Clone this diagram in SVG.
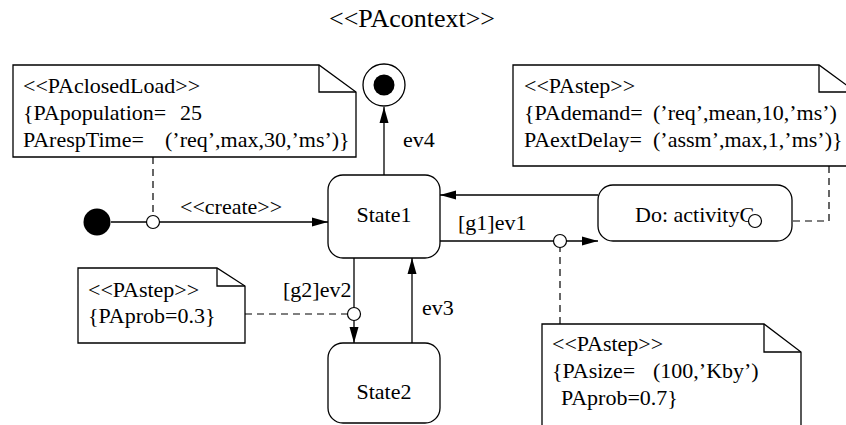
<svg xmlns="http://www.w3.org/2000/svg" width="846" height="425" viewBox="0 0 846 425">
<style>
text { font-family: "Liberation Serif", "Times New Roman", serif; font-size: 22px; fill: #000; }
.title { font-size: 26px; }
.box { fill: #fff; stroke: #000; stroke-width: 1.3; }
.fold { fill: none; stroke: #000; stroke-width: 1.3; }
.edge { fill: none; stroke: #000; stroke-width: 1.3; }
.dash { fill: none; stroke: #000; stroke-width: 1.2; stroke-dasharray: 7 5; }
.pt { fill: #fff; stroke: #000; stroke-width: 1.2; }
</style>
<defs>
<marker id="arr" viewBox="0 0 16 10" refX="16" refY="5" markerWidth="16" markerHeight="10" orient="auto" markerUnits="userSpaceOnUse">
<path d="M0,0.5 L16,5 L0,9.5 z" fill="#000"/>
</marker>
</defs>
<rect width="846" height="425" fill="#fff"/>
<text class="title" x="329" y="27">&lt;&lt;PAcontext&gt;&gt;</text>

<g id="connectors">
<line class="edge" x1="111" y1="222" x2="328" y2="222" marker-end="url(#arr)"/>
<line class="edge" x1="384" y1="175" x2="384" y2="107" marker-end="url(#arr)"/>
<line class="edge" x1="598" y1="195" x2="440" y2="195" marker-end="url(#arr)"/>
<line class="edge" x1="440" y1="241" x2="598" y2="241" marker-end="url(#arr)"/>
<line class="edge" x1="354" y1="258" x2="354" y2="343" marker-end="url(#arr)"/>
<line class="edge" x1="412" y1="343" x2="412" y2="258" marker-end="url(#arr)"/>
<path class="dash" d="M153,157 V215.5"/>
<path class="dash" d="M245,314 H347.5"/>
<path class="dash" d="M560,324 V247.5"/>
<path class="dash" d="M829,166 V221 H761.5"/>
<text x="180" y="214">&lt;&lt;create&gt;&gt;</text>
<text x="403" y="147">ev4</text>
<text x="458" y="230">[g1]ev1</text>
<text x="283" y="297">[g2]ev2</text>
<text x="422" y="315">ev3</text>
</g>

<g id="initial">
<circle cx="97" cy="222" r="13.5" fill="#000"/>
</g>

<g id="final">
<circle cx="384" cy="85" r="21" class="box"/>
<circle cx="384" cy="85" r="10.5" fill="#000"/>
</g>

<g id="state1">
<rect class="box" x="328" y="175" width="112" height="83" rx="15"/>
<text x="384" y="222" text-anchor="middle">State1</text>
</g>

<g id="state2">
<rect class="box" x="328" y="343" width="112" height="80" rx="15"/>
<text x="384" y="399" text-anchor="middle">State2</text>
</g>

<g id="activityC">
<rect class="box" x="598" y="185" width="194" height="56" rx="15"/>
<text x="635" y="222">Do: activityC</text>
</g>

<g id="note-closedLoad">
<path class="box" d="M13,65 H319 L356,92 V157 H13 Z"/>
<path class="fold" d="M319,65 V92 H356"/>
<text x="23" y="93">&lt;&lt;PAclosedLoad&gt;&gt;</text>
<text x="23" y="120">{PApopulation=<tspan x="180">25</tspan></text>
<text x="23" y="147">PArespTime=<tspan x="165">(’req’,max,30,’ms’)}</tspan></text>
</g>

<g id="note-step-demand">
<path class="box" d="M513,65 H819 L856,92 V166 H513 Z"/>
<path class="fold" d="M819,65 V92 H856"/>
<text x="524" y="93">&lt;&lt;PAstep&gt;&gt;</text>
<text x="524" y="120">{PAdemand=<tspan x="653">(’req’,mean,10,’ms’)</tspan></text>
<text x="524" y="147">PAextDelay=<tspan x="653">(’assm’,max,1,’ms’)}</tspan></text>
</g>

<g id="note-step-prob03">
<path class="box" d="M78,268 H217 L245,286 V343 H78 Z"/>
<path class="fold" d="M217,268 V286 H245"/>
<text x="88" y="297">&lt;&lt;PAstep&gt;&gt;</text>
<text x="88" y="323">{PAprob=0.3}</text>
</g>

<g id="note-step-size">
<path class="box" d="M542,324 H764 L801,352 V440 H542 Z"/>
<path class="fold" d="M764,324 V352 H801"/>
<text x="552" y="351">&lt;&lt;PAstep&gt;&gt;</text>
<text x="552" y="378">{PAsize=<tspan x="653">(100,’Kby’)</tspan></text>
<text x="561" y="405">PAprob=0.7}</text>
</g>

<g id="points">
<circle class="pt" cx="153" cy="222" r="6.5"/>
<circle class="pt" cx="354" cy="314" r="6.5"/>
<circle class="pt" cx="560" cy="241" r="6.5"/>
<circle class="pt" cx="755" cy="221" r="6.5"/>
</g>
</svg>
